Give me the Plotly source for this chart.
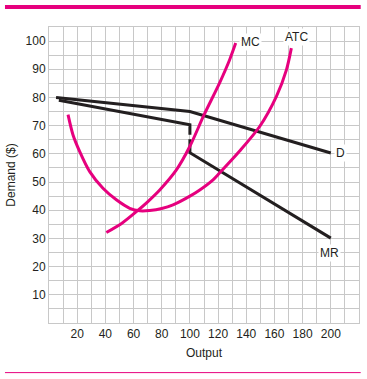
import plotly.graph_objects as go

# ---- data ----
d_x = [5, 100, 200]
d_y = [80, 75, 60.3]

mr_x = [7, 100, 100, None, 100, 100, 200]
mr_y = [79, 70.3, 66.8, None, 65.2, 60.4, 30.1]

mc_x = [40.7, 52, 62, 70, 78.6, 90.4, 99.9, 110, 121, 128.2, 132.5]
mc_y = [32.1, 35.5, 39.5, 43, 47.2, 54.3, 62.6, 73.8, 85.1, 93.4, 99.3]

atc_x = [13.5, 17, 21.8, 28.9, 38.3, 47.8, 57.3, 64.4, 71.5, 80, 88, 100, 107, 116.4, 121, 135.3, 149.5, 161.4, 168.5, 172]
atc_y = [73.9, 66.8, 60.8, 53.7, 47.8, 43.7, 40.7, 39.8, 39.9, 40.6, 41.9, 45, 47.2, 50.8, 53.2, 61, 69.7, 80.4, 89.8, 97.5]

x_ticks = [20, 40, 60, 80, 100, 120, 140, 160, 180, 200]
y_ticks = [10, 20, 30, 40, 50, 60, 70, 80, 90, 100]

labels = [("MC", 143, 99.7), ("ATC", 175.8, 101.6), ("D", 207, 60.4), ("MR", 199.2, 24.9)]

MAG = "#E6007E"
BLK = "#231F20"
GRID = "#C8C8C8"
FONT = "Liberation Sans, Arial, sans-serif"

fig = go.Figure()
fig.add_trace(go.Scatter(x=d_x, y=d_y, mode="lines", line=dict(color=BLK, width=3)))
fig.add_trace(go.Scatter(x=mr_x, y=mr_y, mode="lines", line=dict(color=BLK, width=3)))
fig.add_trace(go.Scatter(x=mc_x, y=mc_y, mode="lines", line=dict(color=MAG, width=3, shape="spline", smoothing=0.8)))
fig.add_trace(go.Scatter(x=atc_x, y=atc_y, mode="lines", line=dict(color=MAG, width=3, shape="spline", smoothing=0.8)))

for t, x, y in labels:
    fig.add_annotation(x=x, y=y, text=t, showarrow=False, bgcolor="white",
                       font=dict(family=FONT, size=12, color=BLK), borderpad=1)

# decorative rules
fig.add_shape(type="line", xref="paper", yref="paper", x0=-0.142, x1=1.0055,
              y0=1.0676, y1=1.0676, line=dict(color=MAG, width=4))
fig.add_shape(type="line", xref="paper", yref="paper", x0=-0.142, x1=1.0055,
              y0=-0.1676, y1=-0.1676, line=dict(color=MAG, width=1))

axis_common = dict(showline=True, mirror=True, linecolor=GRID, linewidth=1,
                   showgrid=True, gridcolor=GRID, gridwidth=1, zeroline=False,
                   ticks="", tickfont=dict(family=FONT, size=12, color=BLK))

fig.update_xaxes(range=[0, 220], tickvals=x_ticks, ticktext=[str(v) for v in x_ticks],
                 minor=dict(dtick=10, tick0=0, showgrid=True, gridcolor=GRID, gridwidth=1),
                 title=dict(text="Output", font=dict(family=FONT, size=12, color=BLK), standoff=8),
                 **axis_common)
fig.update_yaxes(range=[0, 105], tickvals=y_ticks, ticktext=[str(v) for v in y_ticks],
                 minor=dict(dtick=5, tick0=0, showgrid=True, gridcolor=GRID, gridwidth=1),
                 title=dict(text="Demand ($)", font=dict(family=FONT, size=12, color=BLK), standoff=7),
                 **axis_common)

fig.update_layout(width=367, height=379, showlegend=False,
                  margin=dict(l=49, r=8, t=27, b=56),
                  paper_bgcolor="white", plot_bgcolor="white")

fig.write_html("out.html", config={"displayModeBar": False},
               post_script="document.body.style.margin='0';")
